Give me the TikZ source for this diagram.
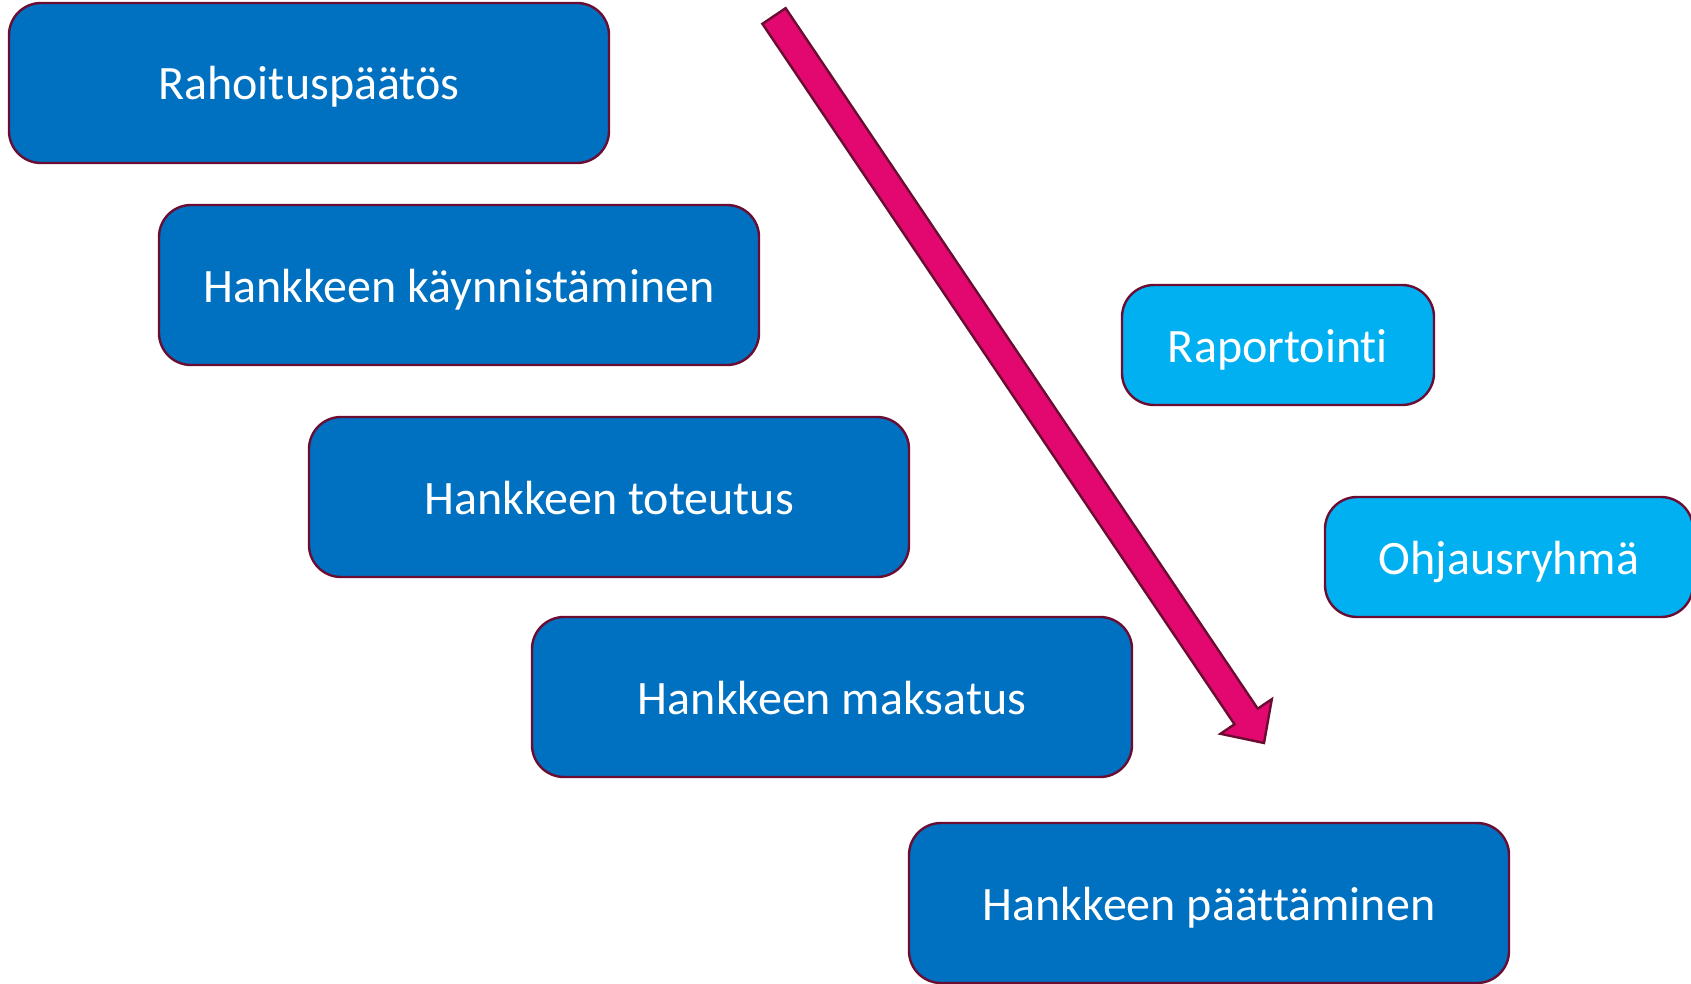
\documentclass[tikz,border=0pt]{standalone}
\usepackage{fontspec}
\setmainfont{Carlito}[Ligatures=NoCommon]
\usepackage{tikz}
\usetikzlibrary{calc, positioning}
\usepackage{xcolor}
\definecolor{PhaseBlue}{HTML}{0070C0}
\definecolor{SideBlue}{HTML}{00B0F0}
\definecolor{Maroon}{HTML}{6B0D33}
\definecolor{Magenta}{HTML}{E2086F}
\tikzset{%
  phase/.style={%
    rectangle,%
    rounded corners=16pt,%
    draw=Maroon,%
    line width=1.2pt,%
    fill=PhaseBlue,%
    text=white,%
    minimum width=300pt,%
    minimum height=80pt,%
    text height=20pt,%
    text depth=3pt,%
    font={\fontsize{24}{29}\selectfont},%
    align=center%
  },
  side_phase/.style={%
    phase,%
    fill=SideBlue,%
    minimum height=60pt,%
  },
  flow_arrow/.style={%
    draw=Maroon,%
    line width=1.2pt,%
    line join=miter,%
    fill=Magenta%
  },
}

\begin{document}
\begin{tikzpicture}[x=0.5pt, y=-0.5pt]

    \useasboundingbox (0,0) rectangle (1691,984);

    \node [phase] (Decision) at (309,83) {Rahoituspäätös};
    \node [phase] (Start) at (459,285) {Hankkeen käynnistäminen};
    \node [phase] (Execution) at (609,497) {Hankkeen toteutus};
    \node [phase] (Payment) at (832,697) {Hankkeen maksatus};
    \node [phase] (Closing) at (1209,903) {Hankkeen päättäminen};

    \node [side_phase, minimum width=156pt] (Report) at (1278,345) {Raportointi};
    \node [side_phase, minimum width=184pt] (Steering) at (1509,557) {Ohjausryhmä};

    % the big arrow
    \coordinate (tail) at (774,16);
    \coordinate (tip) at (1264,743);
    \coordinate (headbase) at ($(tip)!16pt!(tail)$);
    \draw [flow_arrow]
      ($(tail)!7pt!90:(tip)$)
      --
      ($(headbase)!7pt!90:(tip)$)
      --
      ($(headbase)!15.5pt!90:(tip)$)
      --
      (tip)
      --
      ($(headbase)!15.5pt!-90:(tip)$)
      --
      ($(headbase)!7pt!-90:(tip)$)
      --
      ($(tail)!7pt!-90:(tip)$)
      --
      cycle;

  \end{tikzpicture}
\end{document}
